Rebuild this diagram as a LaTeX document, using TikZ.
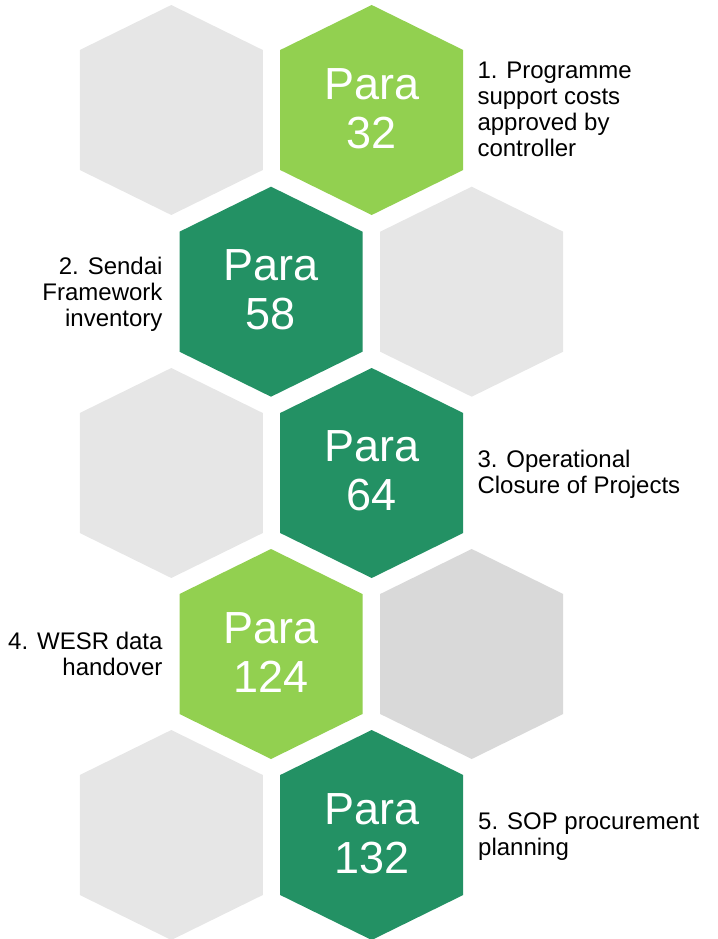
\documentclass[tikz,border=0pt]{standalone}
\usepackage{fontspec}
\setmainfont{Liberation Sans}
\definecolor{lgreen}{RGB}{146,208,80}
\definecolor{dgreen}{RGB}{35,145,100}
\definecolor{grayA}{RGB}{230,230,230}
\definecolor{grayB}{RGB}{217,217,217}
\newcommand\myhex[3]{\fill[#3] (#1,#2) ++(0,-105) -- ++(91.5,45) -- ++(0,120) -- ++(-91.5,45) -- ++(-91.5,-45) -- ++(0,-120) -- cycle;}
\begin{document}
\begin{tikzpicture}[x=1pt,y=-1pt,
  paratext/.style={anchor=north, inner sep=0pt, text=white, align=center, font=\fontsize{45}{49}\selectfont},
  lbl/.style={inner sep=0pt, text=black, font=\fontsize{24}{26}\selectfont}]
\useasboundingbox (0,0) rectangle (717,939);
% row 1
\myhex{171.3}{110}{grayA}
\myhex{371.7}{110}{lgreen}
% row 2
\myhex{271}{291.7}{dgreen}
\myhex{471.7}{291.7}{grayA}
% row 3
\myhex{171.3}{473}{grayA}
\myhex{371.7}{473}{dgreen}
% row 4
\myhex{271}{654}{lgreen}
\myhex{471.7}{654}{grayB}
% row 5
\myhex{171.3}{835}{grayA}
\myhex{371.7}{835}{dgreen}
% hexagon texts
\node[paratext] (p32) at (371.7,68) {Para\\32};
\node[paratext] (p58) at (271,249.5) {Para\\58};
\node[paratext] (p64) at (371.7,430.5) {Para\\64};
\node[paratext] (p124) at (271,612) {Para\\124};
\node[paratext] (p132) at (371.7,793) {Para\\132};
% labels
\node[lbl, anchor=north west, align=left] (l1) at (477.3,62) {1. Programme\\support costs\\approved by\\controller};
\node[lbl, anchor=north east, align=right] (l2) at (162.7,256.5) {2. Sendai\\Framework\\inventory};
\node[lbl, anchor=north west, align=left] (l3) at (477.3,450) {3. Operational\\Closure of Projects};
\node[lbl, anchor=north east, align=right] (l4) at (162.7,631.5) {4. WESR data\\handover};
\node[lbl, anchor=north west, align=left] (l5) at (478,813) {5. SOP procurement\\planning};
\end{tikzpicture}
\end{document}
